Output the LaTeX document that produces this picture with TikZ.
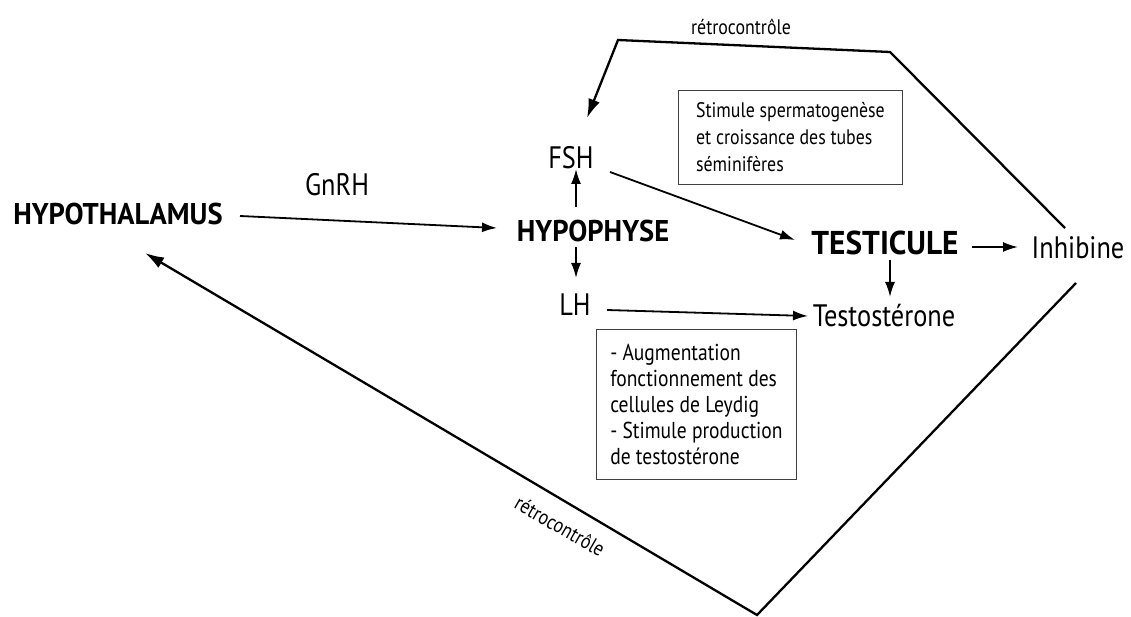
\documentclass[tikz,border=0pt]{standalone}
\usepackage{fontspec}
\setmainfont{PT Sans}[FakeStretch=0.85]
\newfontfamily\boldfam{PT Sans}[FakeStretch=0.95]
\usetikzlibrary{arrows.meta,calc}
\begin{document}
\begin{tikzpicture}[x=1pt,y=-1pt,
  big/.style={inner sep=0pt,font=\boldfam\fontsize{30}{34}\selectfont\bfseries},
  lab/.style={inner sep=0pt,font=\fontsize{31}{34}\selectfont},
  boxtxt/.style={draw=black!75,line width=0.9pt,align=left,anchor=north west,inner sep=5pt},
  arr/.style={line width=1.8pt,-{Latex[length=15pt,width=10pt]}},
  fb/.style={line width=2.3pt,line join=miter},
  fbarr/.style={fb,-{Latex[length=19pt,width=12pt]}},
  fblab/.style={inner sep=0pt,font=\fontsize{21}{24}\selectfont}]
\useasboundingbox (0,0) rectangle (1131,617);
\node[big] (hyp) at (118,214) {HYPOTHALAMUS};
\node[lab] (gnrh) at (337,185) {GnRH};
\node[big] (hypo) at (593,231) {HYPOPHYSE};
\node[lab] (fsh) at (571,158) {FSH};
\node[lab] (lh) at (575,305) {LH};
\node[big,font=\boldfam\fontsize{33}{36}\selectfont\bfseries] (test) at (885,243) {TESTICULE};
\node[lab] (inh) at (1078,248) {Inhibine};
\node[lab] (testo) at (884,316) {Testostérone};
\node[boxtxt,minimum width=224pt,minimum height=94pt,font=\fontsize{21}{27}\selectfont] (box1) at (678,90) {Stimule spermatogenèse\\et croissance des tubes\\séminifères};
\node[boxtxt,minimum width=200pt,minimum height=150pt,font=\fontsize{23}{26}\selectfont] (box2) at (596,329) {- Augmentation\\fonctionnement des\\cellules de Leydig\\- Stimule production\\de testostérone};
\coordinate (c1) at (890,52);
\coordinate (c2) at (618,40);
\coordinate (c3) at (757,615);
\node[fblab] (fbtop) at (741,27) {rétrocontrôle};
\node[fblab,rotate=-30] (fbbot) at (560,526) {rétrocontrôle};
\draw[arr] ($(hyp)+(122,2)$) -- ($(hypo)+(-96,-3)$);
\draw[arr] ($(hypo)+(-17,-24)$) -- ($(fsh)+(5,11)$);
\draw[arr] ($(hypo)+(-17,16)$) -- ($(lh)+(1,-27)$);
\draw[arr] ($(fsh)+(39,14)$) -- ($(test)+(-90,-3)$);
\draw[arr] ($(test)+(87,4)$) -- ($(inh)+(-60,-1)$);
\draw[arr] ($(test)+(5,17)$) -- ($(testo)+(6,-19)$);
\draw[arr] ($(lh)+(32,5)$) -- ($(testo)+(-76,0)$);
\draw[fbarr] ($(inh)+(-13,-20)$) -- (c1) -- (c2) -- ($(fsh)+(16,-40)$);
\draw[fbarr] ($(inh)+(-2,35)$) -- (c3) -- ($(hyp)+(27,39)$);
\end{tikzpicture}
\end{document}
